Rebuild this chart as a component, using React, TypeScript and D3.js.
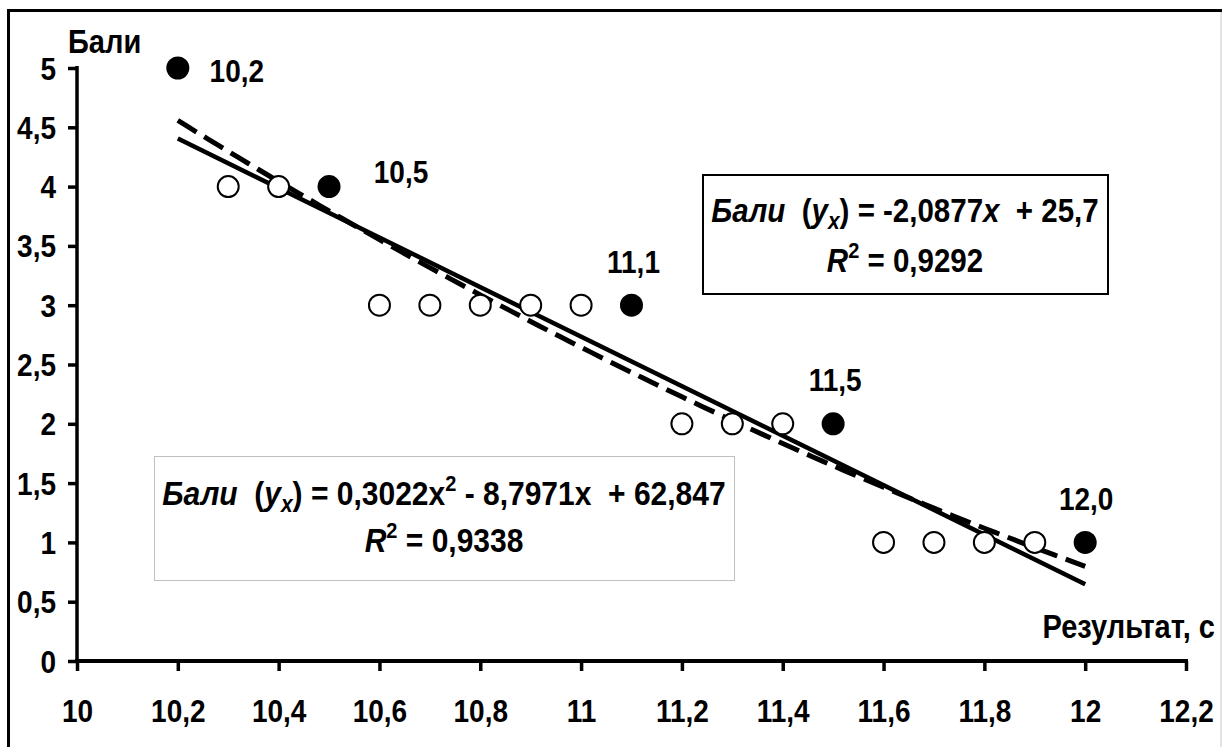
import React, {useRef, useEffect} from 'react';
import {select, scaleLinear, axisBottom, axisLeft, line, range} from 'd3';

// значення з графіка
const xTicks = [10, 10.2, 10.4, 10.6, 10.8, 11, 11.2, 11.4, 11.6, 11.8, 12, 12.2];
const yTicks = [0, 0.5, 1, 1.5, 2, 2.5, 3, 3.5, 4, 4.5, 5];
const openX = [10.3, 10.4, 10.6, 10.7, 10.8, 10.9, 11.0, 11.2, 11.3, 11.4, 11.6, 11.7, 11.8, 11.9];
const openY = [4, 4, 3, 3, 3, 3, 3, 2, 2, 2, 1, 1, 1, 1];
const filledX = [10.2, 10.5, 11.1, 11.5, 12.0];
const filledY = [5, 4, 3, 2, 1];
const filledLabels = ['10,2', '10,5', '11,1', '11,5', '12,0'];
const linCoef = [-2.0877, 25.7];
const polyCoef = [0.3022, -8.7971, 62.847];
const trendFrom = 10.2;
const trendTo = 12;

// зсув підписів точок (dx, dy)
const labelOffsets = [[59, 14], [72, -4], [2, -32], [2, -33], [1, -32]];

const W = 1222, H = 747;
const FONT = '"Liberation Sans", Arial, sans-serif';
const SY = 1.13; // шрифт в оригіналі трохи витягнутий по вертикалі
const comma = (d: number) => String(+d.toFixed(1)).replace('.', ',');
const at = (px: number, py: number) => `translate(${px},${py}) scale(1,${SY})`;

const App = () => {
    const xAxisRef = useRef<SVGGElement>(null);
    const yAxisRef = useRef<SVGGElement>(null);

    const x = scaleLinear().domain([10, 12.2]).range([77, 1186]);
    const y = scaleLinear().domain([0, 5]).range([661, 68]);

    useEffect(() => {
        const xAxis = axisBottom(x).tickValues(xTicks).tickSizeOuter(0).tickSize(10).tickFormat(d => comma(+d));
        const gx = select(xAxisRef.current).call(xAxis);
        gx.select('.domain').attr('stroke-width', 4).attr('d', `M${x(10) - 2},0H${x(12.2) + 2}`);
        gx.selectAll('.tick line').attr('stroke-width', 3.5);
        gx.selectAll('.tick text')
            .attr('y', null).attr('dy', null)
            .attr('transform', at(0, 61))
            .attr('font-size', 28).attr('font-weight', 'bold').attr('font-family', FONT).attr('fill', '#000');

        const yAxis = axisLeft(y).tickValues(yTicks).tickSizeOuter(0).tickSize(9).tickPadding(12).tickFormat(d => comma(+d));
        const gy = select(yAxisRef.current).call(yAxis);
        gy.select('.domain').attr('stroke-width', 3.5).attr('d', `M0,${y(5) - 2}V${y(0) + 2}`);
        gy.selectAll('.tick line').attr('stroke-width', 3.5);
        gy.selectAll('.tick text')
            .attr('dy', null)
            .attr('transform', at(0, 11))
            .attr('font-size', 28).attr('font-weight', 'bold').attr('font-family', FONT).attr('fill', '#000');
    }, []);

    const xs = range(trendFrom, trendTo + 0.0001, 0.02);
    const linPath = line<number>().x(d => x(d)).y(d => y(linCoef[0] * d + linCoef[1]))([trendFrom, trendTo]);
    const polyPath = line<number>().x(d => x(d)).y(d => y(polyCoef[0] * d * d + polyCoef[1] * d + polyCoef[2]))(xs);

    return (
        <svg width={W} height={H} style={{position: 'absolute', left: 0, top: 0, background: '#fff'}}
             fontFamily={FONT} fontWeight="bold">
            <rect x={0} y={0} width={W} height={H} fill="#fff"/>
            <rect x={8.5} y={10.5} width={1400} height={900} fill="none" stroke="#000" strokeWidth={3}/>
            <line x1={1221} x2={1221} y1={12} y2={H} stroke="#c8c8c8" strokeWidth={1}/>

            <g ref={xAxisRef} transform={`translate(0,${y(0)})`}/>
            <g ref={yAxisRef} transform={`translate(${x(10)},0)`}/>

            <text transform={at(68, 53)} fontSize={29}>Бали</text>
            <text transform={at(1215, 638)} fontSize={29} textAnchor="end">Результат, с</text>

            <path d={polyPath || ''} fill="none" stroke="#000" strokeWidth={5} strokeDasharray="22 9"/>
            <path d={linPath || ''} fill="none" stroke="#000" strokeWidth={4.5}/>

            {openX.map((v, i) => (
                <circle key={'o' + i} cx={x(v)} cy={y(openY[i])} r={10.5} fill="#fff" stroke="#000" strokeWidth={2}/>
            ))}
            {filledX.map((v, i) => (
                <g key={'f' + i}>
                    <circle cx={x(v)} cy={y(filledY[i])} r={11.5} fill="#000"/>
                    <text transform={at(x(v) + labelOffsets[i][0], y(filledY[i]) + labelOffsets[i][1])}
                          fontSize={28} textAnchor="middle">{filledLabels[i]}</text>
                </g>
            ))}

            {/* лінійний тренд */}
            <rect x={703} y={175} width={405} height={119} fill="#fff" stroke="#000" strokeWidth={2}/>
            <text transform={at(905, 222)} fontSize={29.5} textAnchor="middle" style={{whiteSpace: 'pre'}}>
                <tspan fontStyle="italic">Бали</tspan>{'  ('}<tspan fontStyle="italic">y</tspan>
                <tspan fontStyle="italic" fontSize={21} dy={6}>x</tspan>
                <tspan dy={-6}>{') = -2,0877'}</tspan><tspan fontStyle="italic">x</tspan>{'  + 25,7'}
            </text>
            <text transform={at(905, 272)} fontSize={29.5} textAnchor="middle">
                <tspan fontStyle="italic">R</tspan><tspan fontSize={20} dy={-12}>2</tspan>
                <tspan dy={12}>{' = 0,9292'}</tspan>
            </text>

            {/* поліноміальний тренд */}
            <rect x={154.5} y={456.5} width={580} height={124} fill="#fff" stroke="#808080" strokeWidth={1} strokeDasharray="1 1"/>
            <text transform={at(444, 505)} fontSize={30} textAnchor="middle" style={{whiteSpace: 'pre'}}>
                <tspan fontStyle="italic">Бали</tspan>{'  ('}<tspan fontStyle="italic">y</tspan>
                <tspan fontStyle="italic" fontSize={21} dy={6}>x</tspan>
                <tspan dy={-6}>{') = 0,3022x'}</tspan><tspan fontSize={20} dy={-12}>2</tspan>
                <tspan dy={12}>{' - 8,7971x  + 62,847'}</tspan>
            </text>
            <text transform={at(444, 552)} fontSize={30} textAnchor="middle">
                <tspan fontStyle="italic">R</tspan><tspan fontSize={20} dy={-12}>2</tspan>
                <tspan dy={12}>{' = 0,9338'}</tspan>
            </text>
        </svg>
    );
};

export default App;
